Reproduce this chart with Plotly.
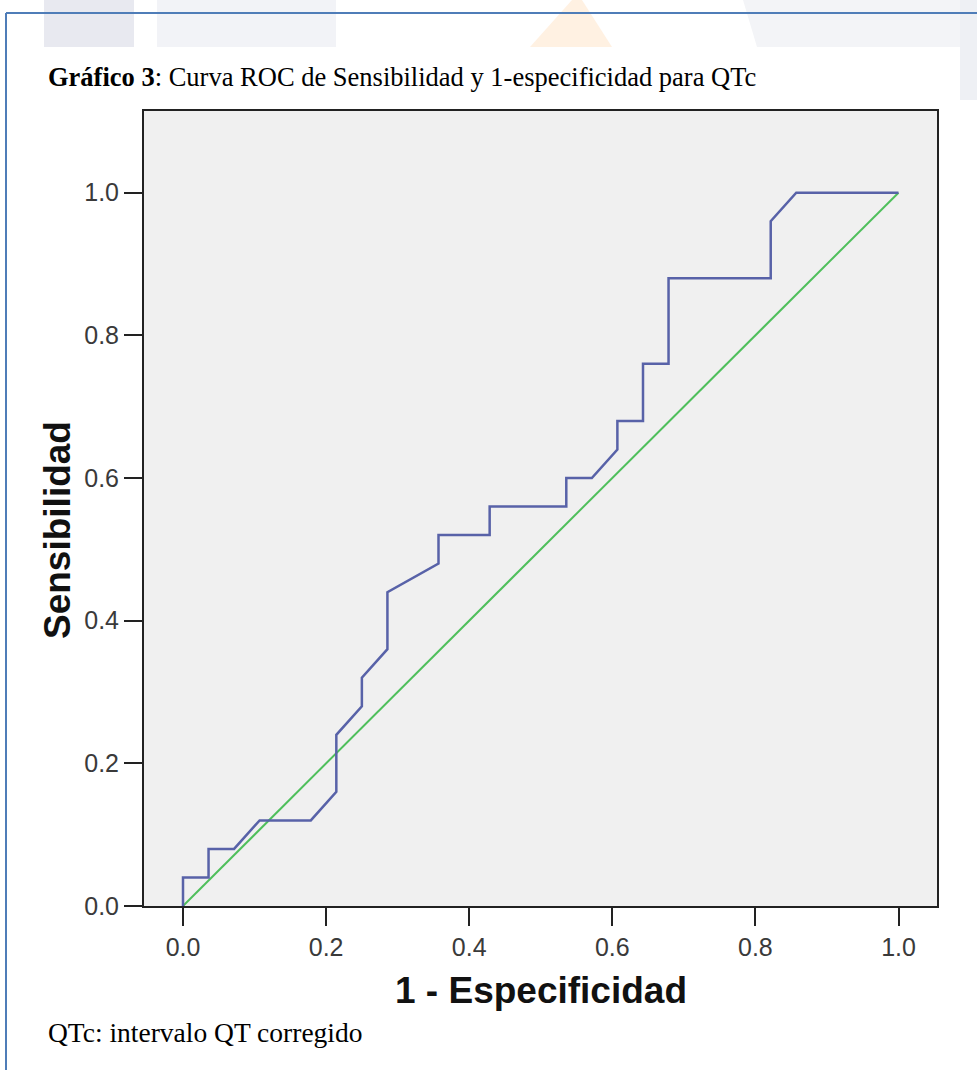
import plotly.graph_objects as go

# ROC curve points (1 - especificidad, sensibilidad)
fpr = [0.0, 0.0, 0.0357, 0.0357, 0.0714, 0.1071, 0.1786, 0.2143, 0.2143, 0.25, 0.25,
       0.2857, 0.2857, 0.3571, 0.3571, 0.4286, 0.4286, 0.5357, 0.5357, 0.5714, 0.6071,
       0.6071, 0.6429, 0.6429, 0.6786, 0.6786, 0.8214, 0.8214, 0.8571, 1.0]
tpr = [0.0, 0.04, 0.04, 0.08, 0.08, 0.12, 0.12, 0.16, 0.24, 0.28, 0.32,
       0.36, 0.44, 0.48, 0.52, 0.52, 0.56, 0.56, 0.60, 0.60, 0.64,
       0.68, 0.68, 0.76, 0.76, 0.88, 0.88, 0.96, 1.0, 1.0]
ref_x = [0.0, 1.0]
ref_y = [0.0, 1.0]
tick_vals = [0.0, 0.2, 0.4, 0.6, 0.8, 1.0]
tick_text = ["0.0", "0.2", "0.4", "0.6", "0.8", "1.0"]

W, H = 977, 1070
L, R, T, B = 144, 40, 111, 164
PW, PH = W - L - R, H - T - B

def px(x):
    return (x - L) / PW

def py(y):
    return (H - B - y) / PH

fig = go.Figure()
fig.add_trace(go.Scatter(x=ref_x, y=ref_y, mode="lines",
                         line=dict(color="#4fbf5c", width=2), hoverinfo="skip",
                         showlegend=False))
fig.add_trace(go.Scatter(x=fpr, y=tpr, mode="lines",
                         line=dict(color="#5862a8", width=2.5), showlegend=False))

axis_common = dict(showgrid=False, zeroline=False, showline=True, mirror=True,
                   linecolor="#222222", linewidth=2, ticks="outside", ticklen=18,
                   tickwidth=2, tickcolor="#222222", tickvals=tick_vals,
                   ticktext=tick_text,
                   tickfont=dict(family="Liberation Sans", size=25, color="#3a3a3a"))

fig.update_xaxes(range=[-0.0545, 1.0538], **axis_common)
fig.update_yaxes(range=[0.0, 1.1145], **axis_common)

shapes = [
    # faint watermark blocks at top
    dict(type="rect", xref="paper", yref="paper", x0=px(44), x1=px(134), y0=py(47), y1=py(0),
         fillcolor="#e8e9f0", line=dict(width=0), layer="below"),
    dict(type="rect", xref="paper", yref="paper", x0=px(157), x1=px(336), y0=py(47), y1=py(0),
         fillcolor="#f2f3f7", line=dict(width=0), layer="below"),
    dict(type="path", xref="paper", yref="paper",
         path=f"M {px(530)} {py(47)} L {px(572)} {py(0)} L {px(582)} {py(0)} L {px(612)} {py(47)} Z",
         fillcolor="#fff1e2", line=dict(width=0), layer="below"),
    dict(type="path", xref="paper", yref="paper",
         path=f"M {px(743)} {py(0)} L {px(960)} {py(0)} L {px(960)} {py(47)} L {px(757)} {py(47)} Z",
         fillcolor="#f3f4f7", line=dict(width=0), layer="below"),
    dict(type="rect", xref="paper", yref="paper", x0=px(960), x1=px(977), y0=py(100), y1=py(0),
         fillcolor="#eef0f4", line=dict(width=0), layer="below"),
    # page frame
    dict(type="line", xref="paper", yref="paper", x0=px(6), x1=px(977), y0=py(13), y1=py(13),
         line=dict(color="#4f7db8", width=2)),
    dict(type="line", xref="paper", yref="paper", x0=px(6), x1=px(6), y0=py(13), y1=py(1070),
         line=dict(color="#4f7db8", width=2)),
]

annotations = [
    dict(text="<b>Gráfico 3</b>: Curva ROC de Sensibilidad y 1-especificidad para QTc",
         xref="paper", yref="paper", x=px(46), y=py(77), xanchor="left", yanchor="middle",
         showarrow=False, font=dict(family="Liberation Serif", size=26.5, color="#000000")),
    dict(text="QTc: intervalo QT corregido",
         xref="paper", yref="paper", x=px(46), y=py(1032), xanchor="left", yanchor="middle",
         showarrow=False, font=dict(family="Liberation Serif", size=27.5, color="#000000")),
    dict(text="<b>Sensibilidad</b>", textangle=-90,
         xref="paper", yref="paper", x=px(57), y=py(530), xanchor="center", yanchor="middle",
         showarrow=False, font=dict(family="Liberation Sans", size=37, color="#111111")),
    dict(text="<b>1 - Especificidad</b>",
         xref="paper", yref="paper", x=px(541), y=py(990), xanchor="center", yanchor="middle",
         showarrow=False, font=dict(family="Liberation Sans", size=37, color="#111111")),
]

fig.update_layout(width=W, height=H, margin=dict(l=L, r=R, t=T, b=B, autoexpand=False),
                  paper_bgcolor="#ffffff", plot_bgcolor="#f0f0f0",
                  shapes=shapes, annotations=annotations, showlegend=False)

fig.write_html("out.html", config={"displayModeBar": False},
               post_script="document.body.style.margin='0px';document.body.style.overflow='hidden';")
